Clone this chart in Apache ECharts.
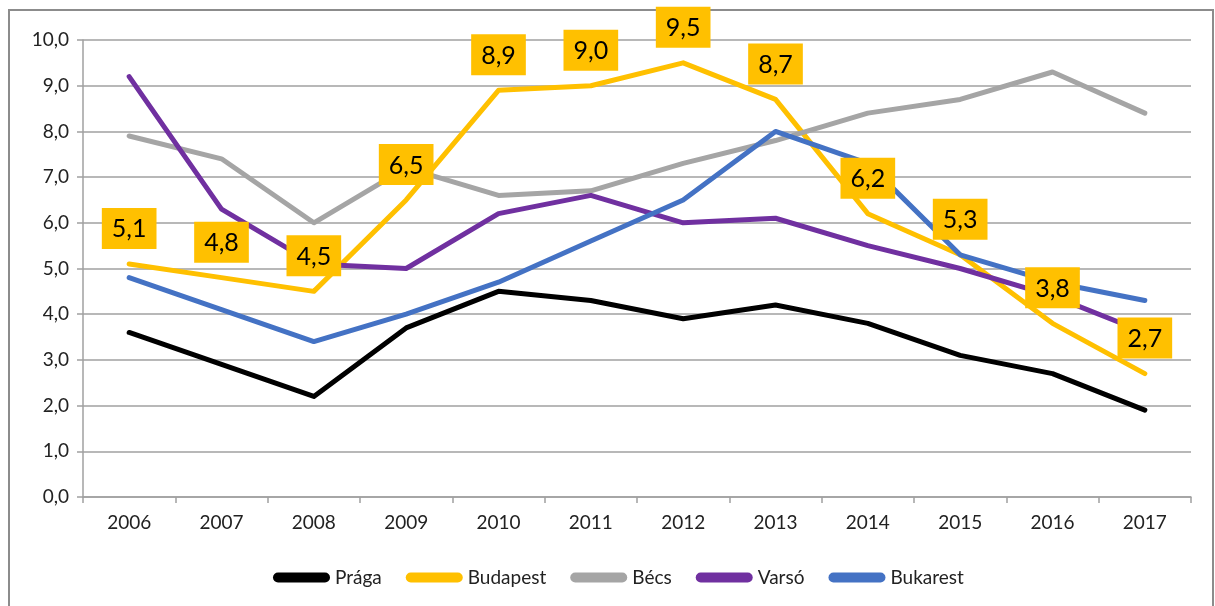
<!DOCTYPE html>
<html>
    <head>
        <meta charset="utf-8">
        <title>Városok 2006-2017</title>
        <script src="https://cdn.jsdelivr.net/npm/echarts@6/dist/echarts.min.js"></script>
        <style>
            body { margin:0; background:#fff; }
        </style>
    </head>
    <body>
        <div id="main" style="width:1215px;height:606px;"></div>
        <script type="text/javascript">
            // évek és sorozatok
            var years = ['2006','2007','2008','2009','2010','2011','2012','2013','2014','2015','2016','2017'];
            var praga    = [3.6, 2.9, 2.2, 3.7, 4.5, 4.3, 3.9, 4.2, 3.8, 3.1, 2.7, 1.9];
            var budapest = [5.1, 4.8, 4.5, 6.5, 8.9, 9.0, 9.5, 8.7, 6.2, 5.3, 3.8, 2.7];
            var becs     = [7.9, 7.4, 6.0, 7.2, 6.6, 6.7, 7.3, 7.8, 8.4, 8.7, 9.3, 8.4];
            var varso    = [9.2, 6.3, 5.1, 5.0, 6.2, 6.6, 6.0, 6.1, 5.5, 5.0, 4.4, 3.6];
            var bukarest = [4.8, 4.1, 3.4, 4.0, 4.7, 5.6, 6.5, 8.0, 7.3, 5.3, 4.7, 4.3];

            var font = 'Lato';
            var pill = 'path://M5,0 L52,0 A5,5 0 0 1 52,10 L5,10 A5,5 0 0 1 5,0 Z';

            function line(name, data, color) {
                return {
                    name: name,
                    type: 'line',
                    data: data,
                    symbol: 'none',
                    lineStyle: { color: color, width: 5, cap: 'round', join: 'round' },
                    itemStyle: { color: color }
                };
            }

            var mychart = echarts.init(document.getElementById('main'));
            var option = {
                animation: false,
                textStyle: { fontFamily: font },
                graphic: [{
                    type: 'rect',
                    shape: { x: 9, y: 10, width: 1204, height: 620 },
                    style: { fill: null, stroke: '#8c8c8c', lineWidth: 2 },
                    silent: true
                }],
                grid: { left: 83, right: 24, top: 40, bottom: 109 },
                legend: {
                    data: ['Prága','Budapest','Bécs','Varsó','Bukarest'],
                    left: 268,
                    top: 563,
                    icon: pill,
                    itemWidth: 57,
                    itemHeight: 10,
                    itemGap: 24,
                    textStyle: { fontFamily: font, fontSize: 19, color: '#222' }
                },
                xAxis: {
                    type: 'category',
                    data: years,
                    boundaryGap: true,
                    axisLine: { lineStyle: { color: '#a0a0a0', width: 1.5 } },
                    axisTick: { show: true, length: 6, lineStyle: { color: '#a0a0a0', width: 1.5 } },
                    axisLabel: { fontFamily: font, fontSize: 19, color: '#222', margin: 16 }
                },
                yAxis: {
                    type: 'value',
                    min: 0,
                    max: 10,
                    interval: 1,
                    axisLine: { show: true, lineStyle: { color: '#a0a0a0', width: 1.5 } },
                    axisTick: { show: true, length: 6, lineStyle: { color: '#a0a0a0', width: 1.5 } },
                    splitLine: { lineStyle: { color: '#a0a0a0', width: 1.5 } },
                    axisLabel: {
                        fontFamily: font, fontSize: 19, color: '#222', margin: 14,
                        formatter: function (v) { return v.toFixed(1).replace('.', ','); }
                    }
                },
                series: [
                    line('Prága', praga, '#000000'),
                    line('Budapest', budapest, '#FFC000'),
                    line('Bécs', becs, '#A5A5A5'),
                    line('Varsó', varso, '#7030A0'),
                    line('Bukarest', bukarest, '#4472C4'),
                    {
                        // csak a Budapest címkék, minden vonal fölött
                        name: 'Budapest címke',
                        type: 'line',
                        data: budapest,
                        z: 10,
                        showSymbol: true,
                        symbol: 'circle',
                        symbolSize: 2,
                        lineStyle: { opacity: 0 },
                        itemStyle: { color: 'rgba(0,0,0,0)' },
                        label: {
                            show: true,
                            position: 'top',
                            distance: 14,
                            backgroundColor: '#FFC000',
                            padding: [9, 10, 7, 10],
                            color: '#000',
                            fontFamily: font,
                            fontSize: 25,
                            formatter: function (p) { return p.value.toFixed(1).replace('.', ','); }
                        }
                    }
                ]
            };
            mychart.setOption(option);
        </script>
    </body>
</html>
